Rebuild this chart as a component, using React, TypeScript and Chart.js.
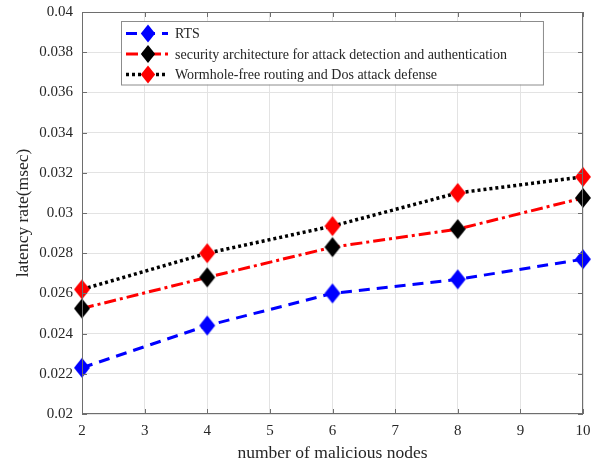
import React, { useEffect, useRef } from "react";
import { Chart, registerables } from "chart.js";

Chart.register(...registerables);

const xValues = [2, 4, 6, 8, 10];
const rtsValues = [0.0223, 0.0244, 0.026, 0.0267, 0.0277];
const securityValues = [0.02525, 0.0268, 0.0283, 0.0292, 0.03075];
const wormholeValues = [0.0262, 0.028, 0.02935, 0.031, 0.0318];
const seriesNames = [
  "RTS",
  "security architecture for attack detection and authentication",
  "Wormhole-free routing and Dos attack defense",
];
const xTitle = "number of malicious nodes";
const yTitle = "latency rate(msec)";

const FONT = "'Liberation Serif', 'Times New Roman', serif";
const TEXT = "#262626";

const framePlugin = {
  id: "frame",
  afterDatasetsDraw(chart: any) {
    const { ctx, chartArea: a, scales } = chart;
    ctx.save();
    ctx.strokeStyle = "#6e6e6e";
    ctx.lineWidth = 1;
    ctx.strokeRect(a.left + 0.5, a.top + 0.5, a.right - a.left - 1, a.bottom - a.top - 1);
    const tl = 5;
    ctx.beginPath();
    scales.x.ticks.forEach((t: any) => {
      const px = Math.round(scales.x.getPixelForValue(t.value)) + 0.5;
      ctx.moveTo(px, a.bottom);
      ctx.lineTo(px, a.bottom - tl);
      ctx.moveTo(px, a.top);
      ctx.lineTo(px, a.top + tl);
    });
    scales.y.ticks.forEach((t: any) => {
      const py = Math.round(scales.y.getPixelForValue(t.value)) + 0.5;
      ctx.moveTo(a.left, py);
      ctx.lineTo(a.left + tl, py);
      ctx.moveTo(a.right, py);
      ctx.lineTo(a.right - tl, py);
    });
    ctx.stroke();
    ctx.restore();
  },
};

const legendPlugin = {
  id: "customLegend",
  afterDraw(chart: any) {
    const { ctx, chartArea: a } = chart;
    ctx.save();
    ctx.font = `14px ${FONT}`;
    const left = a.left + 39;
    const top = a.top + 9;
    const rowH = 20.5;
    const textX = left + 54;
    let maxW = 0;
    chart.data.datasets.forEach((ds: any) => {
      maxW = Math.max(maxW, ctx.measureText(ds.label).width);
    });
    const w = textX - left + maxW + 36;
    const h = rowH * chart.data.datasets.length + 2;
    ctx.fillStyle = "#fff";
    ctx.fillRect(left, top, w, h);
    ctx.strokeStyle = "#8c8c8c";
    ctx.lineWidth = 1;
    ctx.strokeRect(left + 0.5, top + 0.5, w, h);
    chart.data.datasets.forEach((ds: any, i: number) => {
      const cy = top + 12.5 + i * rowH;
      ctx.save();
      ctx.strokeStyle = ds.borderColor;
      ctx.lineWidth = ds.borderWidth;
      ctx.setLineDash(ds.borderDash || []);
      ctx.beginPath();
      ctx.moveTo(left + 5, cy);
      ctx.lineTo(left + 47, cy);
      ctx.stroke();
      ctx.setLineDash([]);
      const mx = left + 27;
      const r = 9;
      ctx.fillStyle = ds.pointBackgroundColor;
      ctx.beginPath();
      ctx.moveTo(mx, cy - r);
      ctx.lineTo(mx + r * 0.8, cy);
      ctx.lineTo(mx, cy + r);
      ctx.lineTo(mx - r * 0.8, cy);
      ctx.closePath();
      ctx.fill();
      ctx.restore();
      ctx.fillStyle = TEXT;
      ctx.textBaseline = "middle";
      ctx.textAlign = "left";
      ctx.fillText(ds.label, textX, cy + 1);
    });
    ctx.restore();
  },
};

function diamond(color: string) {
  const c = document.createElement("canvas");
  c.width = 18;
  c.height = 22;
  const g = c.getContext("2d")!;
  g.fillStyle = color;
  g.beginPath();
  g.moveTo(9, 1);
  g.lineTo(17, 11);
  g.lineTo(9, 21);
  g.lineTo(1, 11);
  g.closePath();
  g.fill();
  return c;
}

export default function App() {
  const ref = useRef<HTMLCanvasElement>(null);
  useEffect(() => {
    if (!ref.current) return;
    const mk = (vals: number[]) => xValues.map((x, i) => ({ x, y: vals[i] }));
    const chart = new Chart(ref.current, {
      type: "line",
      data: {
        datasets: [
          {
            label: seriesNames[0],
            data: mk(rtsValues),
            borderColor: "#0000ff",
            borderWidth: 3,
            borderDash: [11, 7],
            pointStyle: diamond("#0000ff") as any,
            pointBackgroundColor: "#0000ff",
            clip: false as any,
            order: 2,
          },
          {
            label: seriesNames[1],
            data: mk(securityValues),
            borderColor: "#ff0000",
            borderWidth: 3,
            borderDash: [12, 4, 3, 4],
            pointStyle: diamond("#000000") as any,
            pointBackgroundColor: "#000000",
            clip: false as any,
            order: 1,
          },
          {
            label: seriesNames[2],
            data: mk(wormholeValues),
            borderColor: "#000000",
            borderWidth: 3.5,
            borderDash: [3, 3],
            pointStyle: diamond("#ff0000") as any,
            pointBackgroundColor: "#ff0000",
            clip: false as any,
            order: 0,
          },
        ],
      },
      options: {
        animation: false,
        responsive: false,
        events: [],
        layout: { padding: { left: 0, right: 13, top: 12, bottom: 0 } },
        plugins: { legend: { display: false }, tooltip: { enabled: false } },
        elements: { line: { tension: 0 } },
        scales: {
          x: {
            type: "linear",
            min: 2,
            max: 10,
            afterFit: (s: any) => {
              s.height = 52;
              s.paddingLeft = 0;
              s.paddingRight = 0;
            },
            ticks: {
              stepSize: 1,
              padding: 8,
              color: TEXT,
              font: { family: FONT, size: 15 },
            },
            grid: { color: "#e3e3e3", drawTicks: false },
            border: { display: false },
            title: {
              display: true,
              text: xTitle,
              color: TEXT,
              font: { family: FONT, size: 17.5 },
              padding: { top: 0, bottom: 2.5 },
            },
          },
          y: {
            min: 0.02,
            max: 0.04,
            afterFit: (s: any) => {
              s.width = 82;
              s.paddingTop = 0;
              s.paddingBottom = 0;
            },
            ticks: {
              stepSize: 0.002,
              padding: 9,
              color: TEXT,
              font: { family: FONT, size: 15 },
              callback: (v: any) => String(parseFloat(Number(v).toFixed(3))),
            },
            grid: { color: "#e3e3e3", drawTicks: false },
            border: { display: false },
            title: {
              display: true,
              text: yTitle,
              color: TEXT,
              font: { family: FONT, size: 17.5 },
              padding: { top: 13, bottom: 0 },
            },
          },
        },
      },
      plugins: [framePlugin, legendPlugin],
    });
    return () => chart.destroy();
  }, []);
  return (
    <canvas
      ref={ref}
      width={596}
      height={466}
      style={{ position: "fixed", left: 0, top: 0, display: "block", background: "#fff" }}
    />
  );
}
